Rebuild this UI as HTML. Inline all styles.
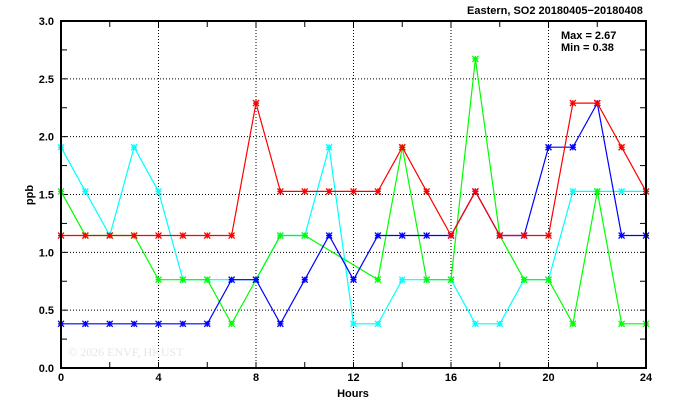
<!DOCTYPE html>
<html><head><meta charset="utf-8"><style>
html,body{margin:0;padding:0;background:#fff;width:674px;height:409px;overflow:hidden}
svg text{font-family:"Liberation Sans",sans-serif;font-weight:bold;font-size:11px;fill:#000}
</style></head><body>
<svg id="s" width="674" height="409" xmlns="http://www.w3.org/2000/svg">
<rect x="0" y="0" width="674" height="409" fill="#fff"/>
<g id="grid" stroke="#000" stroke-width="1" stroke-dasharray="1,2"></g>
<g id="ticks" stroke="#000" stroke-width="1"></g>
<text x="68" y="356" style="font-family:'Liberation Serif',serif;font-weight:normal;font-size:12px;fill:#e6e6e6">© 2026  ENVF, HKUST</text>
<g id="series" fill="none" stroke-width="1.2"></g>
<rect x="61" y="21" width="585" height="347" fill="none" stroke="#000" stroke-width="2"/>
<g id="labels"></g>
<text x="467" y="14" font-size="11">Eastern, SO2 20180405−20180408</text>
<text x="561" y="39">Max = 2.67</text>
<text x="561" y="51">Min = 0.38</text>
<text x="353" y="397" text-anchor="middle">Hours</text>
<text x="0" y="0" transform="translate(33,195) rotate(-90)" text-anchor="middle">ppb</text>
</svg>
<script>
var NS="http://www.w3.org/2000/svg";
function X(h){return 61+24.375*h}
function Y(v){return 368-115.667*v}
function el(p,t,a,txt){var e=document.createElementNS(NS,t);for(var k in a)e.setAttribute(k,a[k]);if(txt!==undefined)e.textContent=txt;document.getElementById(p).appendChild(e);return e}
for(var h=4;h<24;h+=4)el("grid","line",{x1:X(h),x2:X(h),y1:21,y2:368});
for(var v=0.5;v<3;v+=0.5)el("grid","line",{x1:61,x2:646,y1:Y(v),y2:Y(v)});
for(var h=2;h<24;h+=2){el("ticks","line",{x1:X(h),x2:X(h),y1:368,y2:362});el("ticks","line",{x1:X(h),x2:X(h),y1:21,y2:27});}
for(var v=0.25;v<3;v+=0.25){el("ticks","line",{x1:61,x2:67,y1:Y(v),y2:Y(v)});el("ticks","line",{x1:646,x2:640,y1:Y(v),y2:Y(v)});}
for(var h=0;h<=24;h+=4)el("labels","text",{x:X(h),y:381,"text-anchor":"middle"},String(h));
for(var v=0;v<=3.001;v+=0.5)el("labels","text",{x:54,y:Y(v)+4,"text-anchor":"end"},v.toFixed(1));
var u=0.3817;
var S=[
["#00ffff",[[0,5],[1,4],[2,3],[3,5],[4,4],[5,2],[6,2],[7,2],[8,2],[9,3],[10,3],[11,5],[12,1],[13,1],[14,2],[15,2],[16,2],[17,1],[18,1],[19,2],[20,2],[21,4],[22,4],[23,4],[24,4]]],
["#00ff00",[[0,4],[1,3],[2,3],[3,3],[4,2],[5,2],[6,2],[7,1],[8,2],[9,3],[10,3],[13,2],[14,5],[15,2],[16,2],[17,7],[18,3],[19,2],[20,2],[21,1],[22,4],[23,1],[24,1]]],
["#0000ff",[[0,1],[1,1],[2,1],[3,1],[4,1],[5,1],[6,1],[7,2],[8,2],[9,1],[10,2],[11,3],[12,2],[13,3],[14,3],[15,3],[16,3],[17,4],[18,3],[19,3],[20,5],[21,5],[22,6],[23,3],[24,3]]],
["#ff0000",[[0,3],[1,3],[2,3],[3,3],[4,3],[5,3],[6,3],[7,3],[8,6],[9,4],[10,4],[11,4],[12,4],[13,4],[14,5],[15,4],[16,3],[17,4],[18,3],[19,3],[20,3],[21,6],[22,6],[23,5],[24,4]]]
];
S.forEach(function(s){
  var pts=s[1].map(function(p){return X(p[0]).toFixed(1)+","+Y(p[1]*u).toFixed(1)}).join(" ");
  el("series","polyline",{points:pts,stroke:s[0]});
  s[1].forEach(function(p){var x=X(p[0]),y=Y(p[1]*u),d=3;
    el("series","path",{d:"M"+(x-d)+","+(y-d)+"L"+(x+d)+","+(y+d)+"M"+(x-d)+","+(y+d)+"L"+(x+d)+","+(y-d)+"M"+(x-d)+","+y+"L"+(x+d)+","+y+"M"+x+","+(y-d)+"L"+x+","+(y+d),stroke:s[0],"stroke-width":1.3});
  });
});
</script>
</body></html>
